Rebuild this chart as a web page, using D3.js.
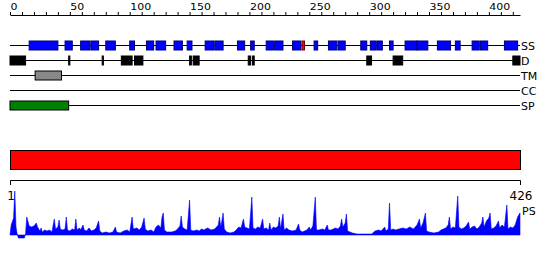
<!DOCTYPE html>
<html>
<head>
<meta charset="utf-8">
<script src="https://cdn.jsdelivr.net/npm/d3@7"></script>
<style>
  body { margin: 0; background: #fff; }
  svg { display: block; font-family: "DejaVu Sans", sans-serif; }
</style>
</head>
<body>
<div class="chart"></div>
<script>
var svgWidth = 550;
var svgHeight = 260;

// sequence length and track names
var seqLength = 426;
var trackNames = ["SS", "D", "TM", "CC", "SP"];

// segments, [start, end] in residues
var ssHelix = [[16,40],[46,52],[59,67],[68,74],[80,88],[100,104],[114,120],[122,130],
  [137,144],[148,152],[163,170],[171,178],[190,196],[201,204],[214,220],[221,228],
  [236,243],[254,257],[266,273],[274,280],[293,298],[301,306],[307,311],[317,320],
  [330,340],[340,349],[357,368],[372,376],[386,392],[393,399],[413,424]];
var ssStrand = [[244,246]];
var disorder = [[0,13],[49,50],[77,78],[93,102],[104,111],[150,151.5],[153,158],
  [199,201],[202.5,204],[298,302],[320,328],[420,426]];
var transmem = [[21,43]];
var coiled = [];
var signalPep = [[0,49]];

// PS profile, residue positions and scores
var psPos = [0,1,3,4,5,6,7,12,13,14,16,18,20,22,23,25,26,27,29,31,33,35,37,38,40,41,42,44,46,47,
  48,50,52,54,55,56,58,59,61,62,64,66,68,70,72,74,75,77,80,83,86,88,89,92,95,98,100,102,103,106,
  108,110,112,113,115,118,120,122,124,126,127,128,129,131,135,138,140,142,143,144,146,148,150,151,153,156,158,160,162,165,
  168,171,174,175,176,177,178,179,181,184,187,189,191,193,195,196,198,200,202,203,205,207,209,211,212,214,216,217,218,220,
  222,224,225,226,228,229,231,233,236,239,241,242,244,246,248,250,251,253,255,256,258,261,263,265,266,268,270,272,274,276,
  277,278,280,281,282,284,286,290,294,298,302,305,308,310,313,314,316,317,318,320,322,325,328,331,334,337,340,342,343,345,
  347,348,350,354,358,360,362,364,366,367,368,370,372,374,375,377,379,381,383,384,386,388,390,392,394,395,396,398,400,401,
  402,404,406,408,409,411,413,415,416,418,420,422,424,426];
var psVal = [0,10,17,44,8,1,-3,-3,1,18,9,8,9,12,8,4,7,3,5,4,5,3,16,6,8,15,6,5,6,18,
  5,4,6,5,16,5,7,5,10,5,4,7,4,5,7,14,4,2,3,2,3,8,3,2,4,5,3,18,6,7,
  5,8,17,6,4,5,3,8,10,7,18,22,5,3,3,4,6,9,19,8,6,5,35,5,4,5,4,6,5,7,
  5,6,10,18,8,14,22,6,3,2,3,5,8,7,16,8,7,6,38,7,6,8,7,16,6,7,5,12,5,8,
  7,9,18,6,21,5,7,5,4,5,11,5,3,4,5,8,5,9,38,5,5,6,5,10,5,5,6,7,6,9,
  16,8,12,21,4,3,2,1,1,1,1,4,5,4,8,4,6,32,5,6,5,6,7,6,8,6,10,16,7,12,
  22,4,3,2,3,5,6,7,10,18,6,8,7,39,8,6,7,9,13,6,8,9,6,8,12,18,8,14,17,22,
  6,7,9,14,7,10,8,30,6,8,7,10,18,22];

var svg = d3.select(".chart")
  .append("svg")
  .attr("width", svgWidth)
  .attr("height", svgHeight);

var x = d3.scaleLinear().domain([0, seqLength]).range([10, 520]);
var trackY = d3.scalePoint().domain(trackNames).range([45.5, 105.5]);

// top ruler
var topAxis = svg.append("g")
  .attr("transform", "translate(0,15)")
  .call(d3.axisTop(x)
    .tickValues(d3.range(0, 421, 10))
    .tickSize(3)
    .tickSizeOuter(0)
    .tickFormat(d => d % 50 === 0 ? d : ""));
topAxis.select(".domain").attr("stroke", "#000");
topAxis.selectAll(".tick line").attr("stroke", "#000");
topAxis.selectAll(".tick text")
  .attr("fill", "#000")
  .attr("text-anchor", "start")
  .attr("x", 0)
  .attr("y", -6.7)
  .attr("dy", null)
  .attr("transform", "scale(1,0.75)")
  .style("font-size", "11px")
  .style("font-family", "DejaVu Sans");

// track lines + labels
var tracks = svg.append("g");
tracks.selectAll("line")
  .data(trackNames)
  .join("line")
    .attr("x1", x(0))
    .attr("x2", x(seqLength))
    .attr("y1", d => trackY(d))
    .attr("y2", d => trackY(d))
    .attr("stroke", "#000");
tracks.selectAll("text")
  .data(trackNames)
  .join("text")
    .attr("x", x(seqLength) + 1)
    .attr("y", d => trackY(d) + 4.5)
    .style("font-size", "11px")
    .text(d => d);

function drawBoxes(segs, track, fill, stroke) {
  svg.append("g")
    .selectAll("rect")
    .data(segs)
    .join("rect")
      .attr("x", d => x(d[0]))
      .attr("width", d => Math.max(0.5, x(d[1]) - x(d[0])))
      .attr("y", trackY(track) - 4.5)
      .attr("height", 9)
      .attr("fill", fill)
      .attr("stroke", stroke);
}

drawBoxes(ssHelix, "SS", "#0000ff", "#000070");
drawBoxes(ssStrand, "SS", "#ff0000", "#700000");
drawBoxes(disorder, "D", "#000", "#000");
drawBoxes(transmem, "TM", "#888", "#000");
drawBoxes(coiled, "CC", "#ff8800", "#000");
drawBoxes(signalPep, "SP", "#008000", "#000");

// domain bar
svg.append("rect")
  .attr("x", x(0) + 0.5)
  .attr("y", 150.5)
  .attr("width", x(seqLength) - x(0))
  .attr("height", 19)
  .attr("fill", "#ff0000")
  .attr("stroke", "#000");

// bracket under the bar
svg.append("path")
  .attr("d", `M${x(0) + 0.5},185V180.5H${x(seqLength) + 0.5}V185`)
  .attr("fill", "none")
  .attr("stroke", "#000");
svg.append("text")
  .attr("x", x(0) + 1)
  .attr("y", 200)
  .attr("text-anchor", "middle")
  .style("font-size", "12px")
  .text("1");
svg.append("text")
  .attr("x", x(seqLength) + 1)
  .attr("y", 200)
  .attr("text-anchor", "middle")
  .style("font-size", "12px")
  .text(seqLength);

// PS profile
var yPS = d3.scaleLinear().domain([0, 45]).range([235, 190]);
var area = d3.area()
  .x((d, i) => x(psPos[i]))
  .y0(yPS(0))
  .y1(d => yPS(d));
svg.append("path")
  .datum(psVal)
  .attr("d", area)
  .attr("fill", "#0000ff")
  .attr("stroke", "#0000ff")
  .attr("stroke-width", 0.6);
svg.append("text")
  .attr("x", x(seqLength) + 2)
  .attr("y", 215)
  .style("font-size", "11px")
  .text("PS");
</script>
</body>
</html>
